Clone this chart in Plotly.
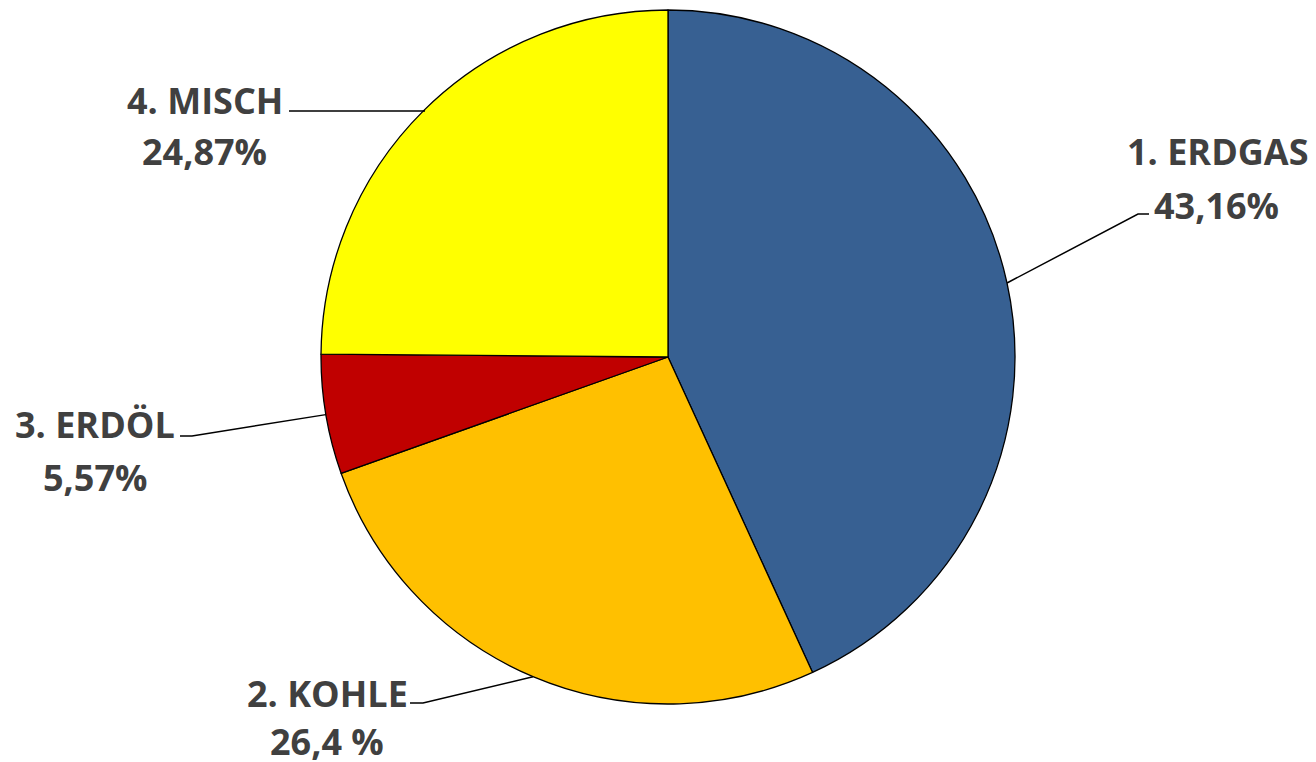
import math
import plotly.graph_objects as go

# Energy mix shares (percent)
categories = ["1. ERDGAS", "2. KOHLE", "3. ERDÖL", "4. MISCH"]
shares = [43.16, 26.4, 5.57, 24.87]
value_labels = ["43,16%", "26,4 %", "5,57%", "24,87%"]
colors = ["#376092", "#FFC000", "#C00000", "#FFFF00"]

W, H = 1316, 762
# pie placement in pixels
CX, CY, R = 668, 357, 347

# label layout in pixels: (name centre x, name mid y, value centre x, value mid y)
label_pos = [
    (1218, 151, 1216, 205),
    (327, 693, 327, 741),
    (95, 424, 95, 477),
    (205, 100, 205, 151),
]
# leader line: elbow point and end point in pixels
leader_pts = [
    ((1138, 214), (1149, 214)),
    ((423, 703), (410, 703)),
    ((192, 436), (180, 436)),
    ((425, 111), (289, 111)),
]


def px(x):
    return x / W


def py(y):
    return 1 - y / H


fig = go.Figure(
    go.Pie(
        labels=categories,
        values=shares,
        marker=dict(colors=colors, line=dict(color="#000000", width=1.3)),
        sort=False,
        direction="clockwise",
        rotation=0,
        textinfo="none",
        hoverinfo="label+percent",
        domain=dict(x=[px(CX - R), px(CX + R)], y=[py(CY + R), py(CY - R)]),
        showlegend=False,
    )
)

total = sum(shares)
cum = 0.0
shapes = []
annotations = []
font = dict(family="Open Sans", size=36, color="#404040")
for i, v in enumerate(shares):
    mid = (cum + v / 2) / total * 2 * math.pi
    cum += v
    ex = CX + R * math.sin(mid)
    ey = CY - R * math.cos(mid)
    (bx, by), (tx, ty) = leader_pts[i]
    path = f"M {px(ex)} {py(ey)} L {px(bx)} {py(by)} L {px(tx)} {py(ty)}"
    shapes.append(dict(type="path", xref="paper", yref="paper", path=path,
                       line=dict(color="#000000", width=1.5)))
    nx, ny, vx, vy = label_pos[i]
    annotations.append(dict(x=px(nx), y=py(ny), xref="paper", yref="paper",
                            text=f"<b>{categories[i]}</b>", showarrow=False,
                            xanchor="center", yanchor="middle", borderpad=0,
                            font=font))
    annotations.append(dict(x=px(vx), y=py(vy), xref="paper", yref="paper",
                            text=f"<b>{value_labels[i]}</b>", showarrow=False,
                            xanchor="center", yanchor="middle", borderpad=0,
                            font=font))

fig.update_layout(
    width=W,
    height=H,
    margin=dict(l=0, r=0, t=0, b=0),
    paper_bgcolor="white",
    plot_bgcolor="white",
    shapes=shapes,
    annotations=annotations,
)

fig.write_html("out.html")
